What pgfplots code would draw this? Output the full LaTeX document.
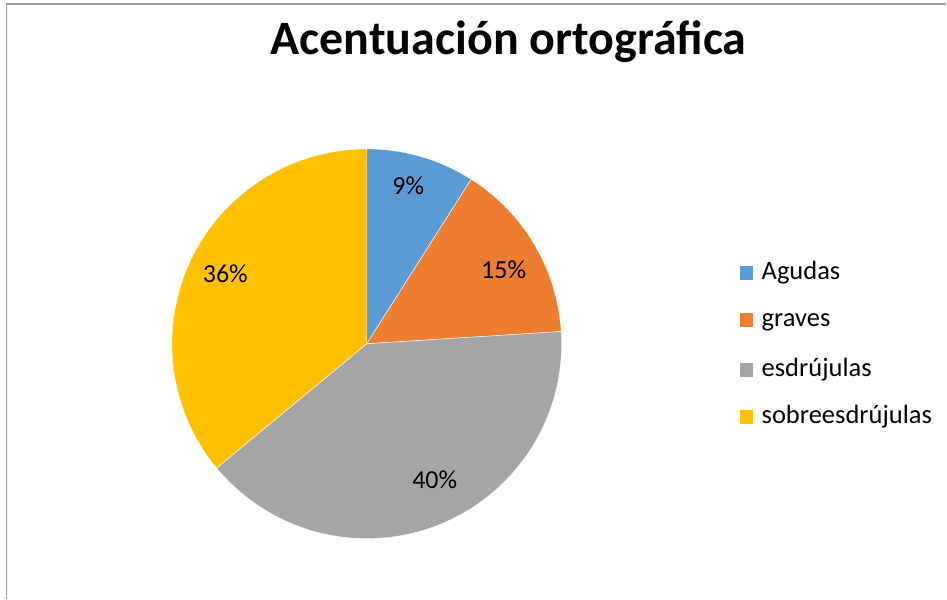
\documentclass[border=0pt]{standalone}
\usepackage{pgfplots}
\pgfplotsset{compat=1.18}
\usepackage{pgfplotstable}
\usepackage{fontspec}
\setmainfont{Carlito}
\definecolor{cA}{HTML}{5B9BD5}
\definecolor{cB}{HTML}{ED7D31}
\definecolor{cC}{HTML}{A5A5A5}
\definecolor{cD}{HTML}{FFC000}
\definecolor{frame}{HTML}{A0A0A0}
\pgfplotstableread{
id value lx ly
0 9 408.5 404
1 15 504 320
2 40 435 110
3 36 225.5 316
}\piedata
\begin{document}
\begin{tikzpicture}
\pgfplotstablegetelem{0}{value}\of\piedata \pgfmathtruncatemacro\vA{\pgfplotsretval}
\pgfplotstablegetelem{1}{value}\of\piedata \pgfmathtruncatemacro\vB{\pgfplotsretval}
\pgfplotstablegetelem{2}{value}\of\piedata \pgfmathtruncatemacro\vC{\pgfplotsretval}
\pgfplotstablegetelem{3}{value}\of\piedata \pgfmathtruncatemacro\vD{\pgfplotsretval}
\pgfmathsetmacro\aA{90}
\pgfmathsetmacro\aB{\aA-3.6*\vA}
\pgfmathsetmacro\aC{\aB-3.6*\vB}
\pgfmathsetmacro\aD{\aC-3.6*\vC}
\pgfmathsetmacro\aE{\aD-3.6*\vD}
\begin{axis}[
  x=1pt, y=1pt, scale only axis,
  xmin=0, xmax=947, ymin=0, ymax=599,
  hide axis, clip=false,
]
\path (axis cs:0,0) rectangle (axis cs:947,599);
\draw[frame, line width=1.3pt] (axis cs:6.5,0) -- (axis cs:6.5,595) -- (axis cs:947,595);
% pie wedges
\filldraw[fill=cA, draw=white, line width=0.4pt] (axis cs:367,255) -- ++(\aA:195pt) arc[start angle=\aA, end angle=\aB, radius=195pt] -- cycle;
\filldraw[fill=cB, draw=white, line width=0.4pt] (axis cs:367,255) -- ++(\aB:195pt) arc[start angle=\aB, end angle=\aC, radius=195pt] -- cycle;
\filldraw[fill=cC, draw=white, line width=0.4pt] (axis cs:367,255) -- ++(\aC:195pt) arc[start angle=\aC, end angle=\aD, radius=195pt] -- cycle;
\filldraw[fill=cD, draw=white, line width=0.4pt] (axis cs:367,255) -- ++(\aD:195pt) arc[start angle=\aD, end angle=\aE, radius=195pt] -- cycle;
% data labels
\node[anchor=base, font=\fontsize{26}{30}\selectfont] at (axis cs:408.5,404) {\vA\%};
\node[anchor=base, font=\fontsize{26}{30}\selectfont] at (axis cs:504,320) {\vB\%};
\node[anchor=base, font=\fontsize{26}{30}\selectfont] at (axis cs:435,110) {\vC\%};
\node[anchor=base, font=\fontsize{26}{30}\selectfont] at (axis cs:225.5,316) {\vD\%};
% title
\node[anchor=base, font=\bfseries\fontsize{48}{56}\selectfont] at (axis cs:509,544) {Acentuación ortográfica};
% legend
\fill[cA] (axis cs:740,319) rectangle (axis cs:754,333);
\fill[cB] (axis cs:740,272) rectangle (axis cs:754,286);
\fill[cC] (axis cs:740,222) rectangle (axis cs:754,236);
\fill[cD] (axis cs:740,175) rectangle (axis cs:754,189);
\node[anchor=base west, inner sep=0pt, font=\fontsize{26.5}{30}\selectfont] at (axis cs:762,319) {Agudas};
\node[anchor=base west, inner sep=0pt, font=\fontsize{26.5}{30}\selectfont] at (axis cs:762,272) {graves};
\node[anchor=base west, inner sep=0pt, font=\fontsize{26.5}{30}\selectfont] at (axis cs:762,222) {esdrújulas};
\node[anchor=base west, inner sep=0pt, font=\fontsize{26.5}{30}\selectfont] at (axis cs:762,175) {sobreesdrújulas};
\end{axis}
\end{tikzpicture}
\end{document}
